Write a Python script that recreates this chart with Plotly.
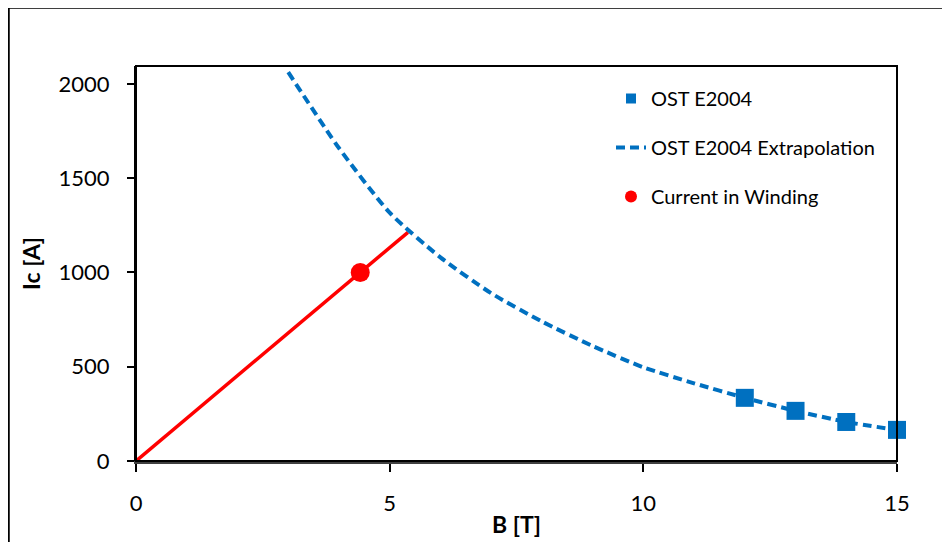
import plotly.graph_objects as go

# Measured critical current (OST E2004)
meas_B = [12, 13, 14, 15]
meas_Ic = [335, 266, 207, 165]

# Extrapolation curve
extra_B = [3, 4, 5, 6, 7, 8, 9, 10, 11, 12, 13, 14, 15]
extra_Ic = [2062, 1660, 1317, 1080, 890, 740, 610, 497, 412, 335, 266, 207, 165]

# Load line and operating point
load_B = [0, 5.36]
load_I = [0, 1213]
op_B = [4.42]
op_I = [1000]

BLUE = "#0070C0"
RED = "#FF0000"
FONT = "Lato, Carlito, 'Open Sans', sans-serif"

OFF = 8  # page body margin
W, H = 950 - OFF, 542 - OFF
# plot area in page pixels: left 136, right 897, top 66, bottom 461
L = 136 - OFF
T = 66 - OFF
R = W - (897 - OFF)
B = H - (461 - OFF)
pw, ph = W - L - R, H - T - B


def px_x(p):
    """page pixel x -> paper coordinate"""
    return (p - OFF - L) / pw


def px_y(p):
    """page pixel y -> paper coordinate"""
    return (H - B - (p - OFF)) / ph


fig = go.Figure()

fig.add_trace(go.Scatter(x=load_B, y=load_I, mode="lines",
                         line=dict(color=RED, width=3.5), showlegend=False, hoverinfo="skip"))
fig.add_trace(go.Scatter(x=extra_B, y=extra_Ic, mode="lines",
                         line=dict(color=BLUE, width=4, dash="9px,5px", shape="spline", smoothing=0.6),
                         showlegend=False))
fig.add_trace(go.Scatter(x=meas_B, y=meas_Ic, mode="markers",
                         marker=dict(symbol="square", size=18, color=BLUE), showlegend=False,
                         cliponaxis=False))
fig.add_trace(go.Scatter(x=op_B, y=op_I, mode="markers",
                         marker=dict(symbol="circle", size=19, color=RED), showlegend=False))

fig.add_trace(go.Scatter(x=[None], y=[None], mode="markers", name="OST E2004",
                         marker=dict(symbol="square", size=10, color=BLUE), legendgroup="a"))
fig.add_trace(go.Scatter(x=[None], y=[None], mode="lines", name="OST E2004 Extrapolation",
                         line=dict(color=BLUE, width=4, dash="9px,5px"), legendgroup="b"))
fig.add_trace(go.Scatter(x=[None], y=[None], mode="markers", name="Current in Winding",
                         marker=dict(symbol="circle", size=12, color=RED), legendgroup="c"))

fig.update_layout(
    width=W, height=H,
    margin=dict(l=L, r=R, t=T, b=B, autoexpand=False),
    paper_bgcolor="white", plot_bgcolor="white",
    font=dict(family=FONT, size=22, color="#000000"),
    xaxis=dict(range=[0, 15], tickvals=[0, 5, 10, 15], ticks="outside", ticklen=8,
               tickwidth=1.5, tickcolor="#000", showgrid=False, zeroline=False,
               showline=True, linecolor="#404040", linewidth=2.5, automargin=False,
               ticklabelstandoff=13,
               title=dict(text="<b>B [T]</b>", font=dict(size=23), standoff=2)),
    yaxis=dict(range=[0, 2095], tickvals=[0, 500, 1000, 1500, 2000], ticks="outside",
               ticklen=7, tickwidth=1.5, tickcolor="#000", showgrid=False, zeroline=False,
               showline=True, linecolor="#000", linewidth=2, ticklabelstandoff=13,
               automargin=False,
               title=dict(text="<b>Ic [A]</b>", font=dict(size=23), standoff=12)),
    legend=dict(x=px_x(611), y=px_y(79), xanchor="left", yanchor="top",
                bgcolor="rgba(0,0,0,0)", font=dict(size=20), tracegroupgap=20,
                traceorder="grouped"),
    showlegend=True,
    shapes=[
        dict(type="rect", xref="paper", yref="paper", x0=0, y0=0, x1=1, y1=1,
             line=dict(color="#000", width=2), layer="above"),
        dict(type="rect", xref="paper", yref="paper",
             x0=px_x(8.5), y0=px_y(580), x1=px_x(990), y1=px_y(7.5),
             line=dict(color="#000", width=2.5)),
    ],
)

fig.write_html("out.html")
